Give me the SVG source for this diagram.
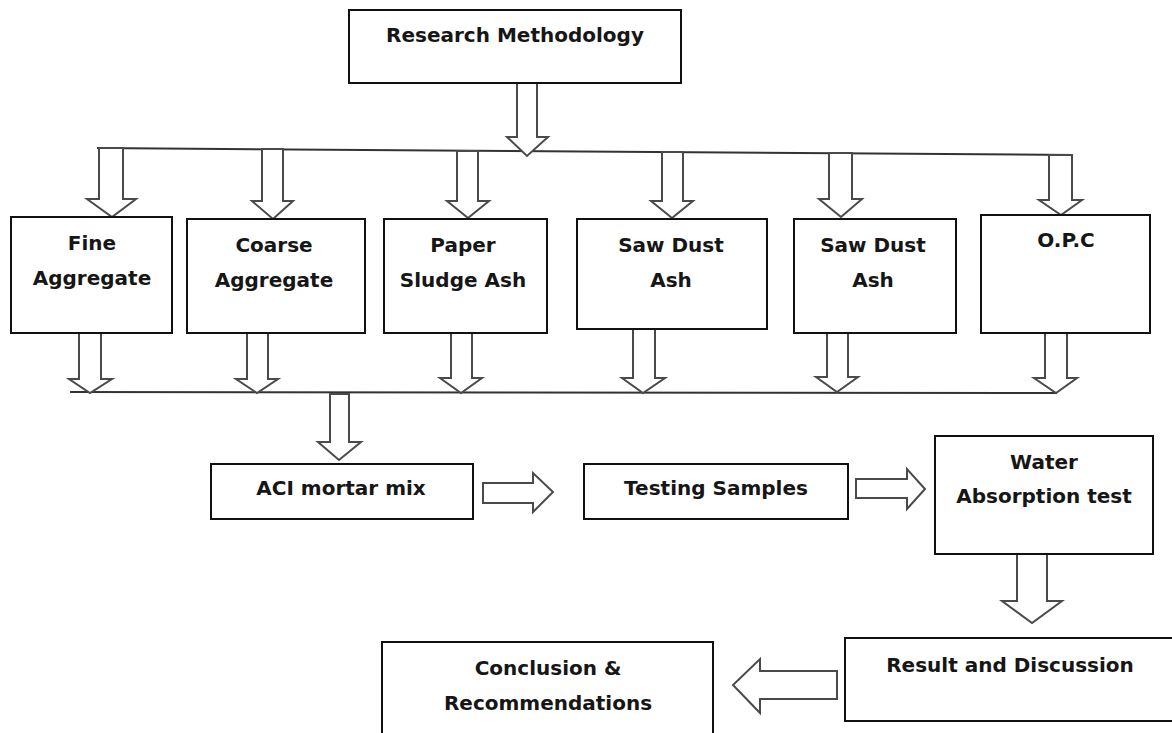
<svg xmlns="http://www.w3.org/2000/svg" width="1172" height="733" viewBox="0 0 1172 733">
<style>
.box{fill:#fff;stroke:#111;stroke-width:2}
.arr{fill:#fff;stroke:#4a4a4a;stroke-width:2;stroke-linejoin:miter}
.ln{stroke:#333;stroke-width:2;fill:none}
text{font-family:"DejaVu Sans","Liberation Sans",sans-serif;font-weight:bold;font-size:20px;fill:#161616;text-anchor:middle}
</style>
<rect width="1172" height="733" fill="#fff"/>
<g id="connectors">
<line class="ln" x1="97" y1="148" x2="1073" y2="155"/>
<line class="ln" x1="70" y1="392" x2="1057" y2="393"/>
<polygon class="arr" points="517,83 537,83 537,137 548,137 527,156 507,137 517,137"/>
<polygon class="arr" points="99,148 123,148 123,199 136,199 112,217 87,199 99,199"/>
<polygon class="arr" points="262,149 283,149 283,201 293,201 273,219 252,201 262,201"/>
<polygon class="arr" points="457,151 478,151 478,201 489,201 468,218 447,201 457,201"/>
<polygon class="arr" points="662,152 683,152 683,201 693,201 672,218 651,201 662,201"/>
<polygon class="arr" points="829,153 852,153 852,199 862,199 841,217 819,199 829,199"/>
<polygon class="arr" points="1049,155 1072,155 1072,200 1082,200 1061,215 1039,200 1049,200"/>
<polygon class="arr" points="79,333 101,333 101,379 112,379 90,393 69,379 79,379"/>
<polygon class="arr" points="247,333 268,333 268,379 278,379 257,393 236,379 247,379"/>
<polygon class="arr" points="451,333 472,333 472,378 482,378 461,393 440,378 451,378"/>
<polygon class="arr" points="633,329 655,329 655,378 665,378 643,393 622,378 633,378"/>
<polygon class="arr" points="827,333 848,333 848,377 858,377 837,392 816,377 827,377"/>
<polygon class="arr" points="1045,333 1067,333 1067,378 1077,378 1056,393 1034,378 1045,378"/>
<polygon class="arr" points="330,394 349,394 349,442 361,442 339,460 318,442 330,442"/>
<polygon class="arr" points="483,483 533,483 533,473 553,492 533,512 533,503 483,503"/>
<polygon class="arr" points="856,479 907,479 907,469 925,489 907,509 907,498 856,498"/>
<polygon class="arr" points="1017,554 1047,554 1047,601 1062,601 1032,623 1002,601 1017,601"/>
<polygon class="arr" points="837,671 760,671 760,659 733,685 760,713 760,699 837,699"/>
</g>
<g id="research">
<rect class="box" x="349" y="10" width="332" height="73"/>
<text x="515" y="42">Research Methodology</text>
</g>
<g id="fine">
<rect class="box" x="11" y="217" width="161" height="116"/>
<text x="92" y="250">Fine</text>
<text x="92" y="285">Aggregate</text>
</g>
<g id="coarse">
<rect class="box" x="187" y="219" width="178" height="114"/>
<text x="274" y="252">Coarse</text>
<text x="274" y="287">Aggregate</text>
</g>
<g id="paper">
<rect class="box" x="384" y="219" width="163" height="114"/>
<text x="463" y="252">Paper</text>
<text x="463" y="287">Sludge Ash</text>
</g>
<g id="sawdust1">
<rect class="box" x="577" y="219" width="190" height="110"/>
<text x="671" y="252">Saw Dust</text>
<text x="671" y="287">Ash</text>
</g>
<g id="sawdust2">
<rect class="box" x="794" y="219" width="162" height="114"/>
<text x="873" y="252">Saw Dust</text>
<text x="873" y="287">Ash</text>
</g>
<g id="opc">
<rect class="box" x="981" y="215" width="169" height="118"/>
<text x="1066" y="247">O.P.C</text>
</g>
<g id="aci">
<rect class="box" x="211" y="464" width="262" height="55"/>
<text x="341" y="495">ACI mortar mix</text>
</g>
<g id="testing">
<rect class="box" x="584" y="464" width="264" height="55"/>
<text x="716" y="495">Testing Samples</text>
</g>
<g id="water">
<rect class="box" x="935" y="436" width="218" height="118"/>
<text x="1044" y="469">Water</text>
<text x="1044" y="503">Absorption test</text>
</g>
<g id="result">
<rect class="box" x="845" y="638" width="340" height="83"/>
<text x="1010" y="672">Result and Discussion</text>
</g>
<g id="conclusion">
<rect class="box" x="382" y="642" width="331" height="110"/>
<text x="548" y="675">Conclusion &amp;</text>
<text x="548" y="710">Recommendations</text>
</g>
</svg>
